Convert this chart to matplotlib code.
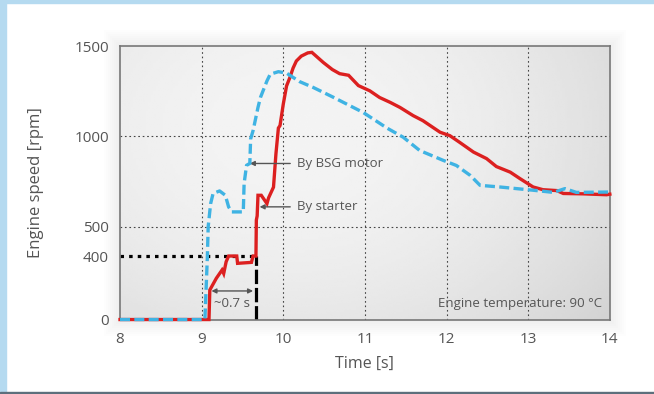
import numpy as np
import matplotlib
matplotlib.use('Agg')
from matplotlib import pyplot as plt
from matplotlib.patches import Rectangle

# engine speed readings [rpm] over time [s]
bsg_t = [8.0, 9.04, 9.07, 9.08, 9.11, 9.14, 9.22, 9.29, 9.33, 9.37, 9.51, 9.52,
         9.55, 9.59, 9.60, 9.63, 9.69, 9.72, 9.80, 9.84, 9.94, 10.04, 10.20, 10.37,
         10.61, 10.98, 11.27, 11.47, 11.67, 11.96, 12.12, 12.29, 12.41, 12.65,
         13.06, 13.31, 13.45, 13.59, 14.0]
bsg_rpm = [0, 0, 396, 500, 628, 684, 698, 674, 610, 582, 582, 739,
           840, 850, 986, 1032, 1160, 1215, 1307, 1344, 1358, 1350, 1303, 1270,
           1217, 1132, 1046, 995, 922, 867, 839, 784, 729, 720,
           702, 690, 711, 690, 692]

starter_t = [8.0, 9.09, 9.10, 9.18, 9.25, 9.27, 9.30, 9.33, 9.43, 9.44, 9.61, 9.63,
             9.665, 9.67, 9.68, 9.69, 9.73, 9.80, 9.82, 9.88, 9.91, 9.94, 9.96,
             10.00, 10.04, 10.08, 10.12, 10.16, 10.22, 10.30, 10.35, 10.40, 10.49,
             10.60, 10.69, 10.80, 10.92, 11.06, 11.18, 11.31, 11.43, 11.59, 11.71,
             11.92, 12.04, 12.16, 12.33, 12.49, 12.61, 12.78, 12.90, 13.06, 13.18,
             13.35, 13.43, 13.67, 13.96, 14.0]
starter_rpm = [0, 0, 186, 260, 312, 290, 364, 400, 400, 354, 360, 400,
               400, 537, 560, 674, 674, 628, 660, 719, 904, 1046, 1060,
               1179, 1279, 1325, 1378, 1417, 1444, 1462, 1465, 1445, 1409,
               1370, 1347, 1338, 1281, 1252, 1215, 1188, 1160, 1115, 1087,
               1023, 1004, 967, 913, 877, 833, 802, 766, 720, 705,
               700, 684, 682, 677, 680]

x_ticks = [8, 9, 10, 11, 12, 13, 14]
y_ticks = [0, 400, 500, 1000, 1500]
idle_rpm = 400
start_time = 9.665

# the printed axis is not quite linear below 500 rpm
scale_rpm = [0, 400, 500, 1500]
scale_pos = [0, 63.5, 92.8, 273.5]


def _pw(v, xs, ys):
    v = np.asarray(v, dtype=float)
    out = np.interp(v, xs, ys)
    lo = v < xs[0]
    hi = v > xs[-1]
    out[lo] = ys[0] + (v[lo] - xs[0]) * (ys[1] - ys[0]) / (xs[1] - xs[0])
    out[hi] = ys[-1] + (v[hi] - xs[-1]) * (ys[-1] - ys[-2]) / (xs[-1] - xs[-2])
    return out


def fwd(v):
    return _pw(v, scale_rpm, scale_pos)


def inv(v):
    return _pw(v, scale_pos, scale_rpm)


plt.rcParams['font.family'] = ['Open Sans', 'DejaVu Sans']
txt = '#555555'
red = '#dc2020'
blue = '#3fb3e3'

fig = plt.figure(figsize=(6.54, 3.94), dpi=100)
fig.patch.set_facecolor('white')
ax = fig.add_axes([0.1835, 0.189, 0.749, 0.6942])

# frame of the original picture
fig.patches.append(Rectangle((0, 0), 6 / 654, 1, transform=fig.transFigure,
                             color='#b5daf0', zorder=-2))
fig.patches.append(Rectangle((0, 1 - 3 / 394), 1, 3 / 394, transform=fig.transFigure,
                             color='#b5daf0', zorder=-2))
fig.patches.append(Rectangle((0, 0), 1, 2 / 394, transform=fig.transFigure,
                             color='#5d6f7c', zorder=-2))
# soft shadow round the plot area
for k in range(1, 9):
    d = 2.0 * k
    fig.patches.append(Rectangle(((120 - d) / 654, (394 - 320 - d) / 394),
                                 (490 + 2 * d) / 654, (274 + 2 * d) / 394,
                                 transform=fig.transFigure, color='k',
                                 alpha=0.008, zorder=-1, lw=0))

# grey vignette inside the axes
gx, gy = np.meshgrid(np.linspace(0, 1, 200), np.linspace(0, 1, 120))
shade = 0.955 - 0.08 * ((gx - 0.35) / 0.65) ** 2 - 0.05 * ((gy - 0.7) / 0.7) ** 2
ax.imshow(shade, extent=[0, 1, 0, 1], transform=ax.transAxes, origin='lower',
          cmap='gray', vmin=0, vmax=1, aspect='auto', zorder=0,
          interpolation='bilinear')

ax.set_yscale('function', functions=(fwd, inv))
ax.set_xlim(8, 14)
ax.set_ylim(0, 1500)

for x in x_ticks[1:-1]:
    ax.plot([x, x], [0, 1500], color='#444444', lw=0.8, ls=(0, (1.5, 2.5)), zorder=1)
for y in [500, 1000]:
    ax.plot([8, 14], [y, y], color='#444444', lw=0.8, ls=(0, (1.5, 2.5)), zorder=1)

ax.plot([8, start_time], [idle_rpm, idle_rpm], color='black', lw=2.3,
        ls=(0, (1.1, 1.6)), dash_capstyle='butt', zorder=2)
ax.plot([start_time, start_time], [0, idle_rpm], color='black', lw=2.3,
        ls=(0, (4.5, 1.2)), dash_capstyle='butt', zorder=2)

ax.plot(starter_t, starter_rpm, color=red, lw=2.4, zorder=3,
        solid_joinstyle='miter', clip_on=False)
ax.plot(bsg_t, bsg_rpm, color=blue, lw=2.4, ls=(0, (3.0, 1.3)),
        dash_capstyle='butt', zorder=4, clip_on=False)

arrow = dict(arrowstyle='-|>', color='#555555', lw=1.0, mutation_scale=7,
             shrinkA=3, shrinkB=0)
ax.annotate('By BSG motor', xy=(9.59, 850), xytext=(10.17, 850),
            ha='left', va='center', color=txt, fontsize=9.5, arrowprops=arrow)
ax.annotate('By starter', xy=(9.71, 610), xytext=(10.17, 610),
            ha='left', va='center', color=txt, fontsize=9.5, arrowprops=arrow)
ax.annotate('', xy=(9.12, 180), xytext=(9.63, 180),
            arrowprops=dict(arrowstyle='<|-|>', color='#555555', lw=1.0,
                            mutation_scale=7, shrinkA=0, shrinkB=0))
ax.text(9.37, 98, '~0.7 s', ha='center', va='center', color=txt, fontsize=9.5)
ax.text(0.984, 0.06, 'Engine temperature: 90 °C', transform=ax.transAxes,
        ha='right', va='center', color=txt, fontsize=9.5)

ax.set_xticks(x_ticks)
ax.set_yticks(y_ticks)
ax.set_yticklabels([str(v) for v in y_ticks])
ax.tick_params(length=0, labelsize=11, colors=txt, pad=8)
ax.tick_params(axis='x', pad=9)
ax.yaxis.set_minor_locator(matplotlib.ticker.NullLocator())
for s in ax.spines.values():
    s.set_color('#777777')
    s.set_linewidth(1.2)

ax.set_xlabel('Time [s]', fontsize=11.5, color=txt, labelpad=6)
ax.set_ylabel('Engine speed [rpm]', fontsize=12, color=txt, labelpad=22)

fig.savefig('out.png', dpi=100)
